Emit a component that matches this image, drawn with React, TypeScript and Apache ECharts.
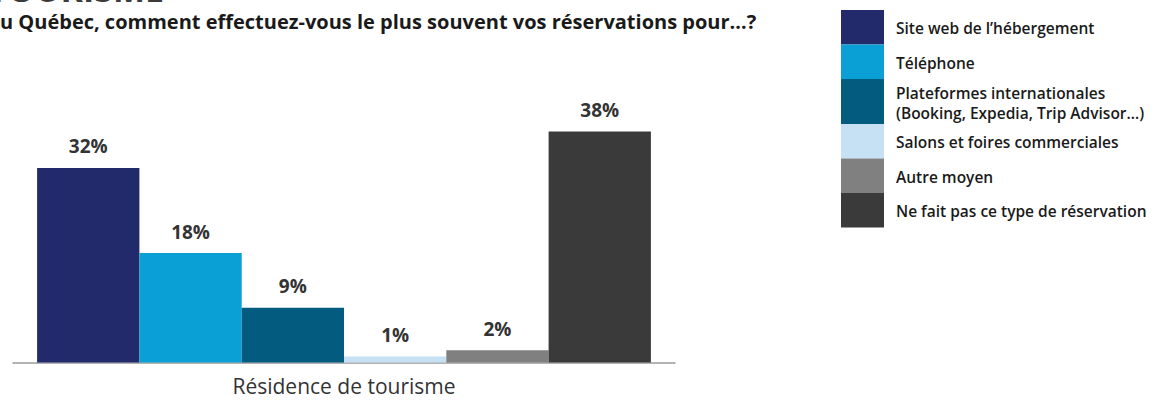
import React, { useEffect, useRef } from "react";
import * as echarts from "echarts";

const titleText = "u Québec, comment effectuez-vous le plus souvent vos réservations pour…?";
const headerText = "TOURISME";
const categories = ["Résidence de tourisme"];
const seriesNames = [
  "Site web de l’hébergement",
  "Téléphone",
  "Plateformes internationales\n(Booking, Expedia, Trip Advisor…)",
  "Salons et foires commerciales",
  "Autre moyen",
  "Ne fait pas ce type de réservation",
];
const seriesValues = [32, 18, 9, 1, 2, 38];
const seriesColors = ["#232a6b", "#0a9fd5", "#035b80", "#c6e0f4", "#808080", "#3a3a3a"];

const FONT = "'Open Sans', Lato, sans-serif";

export default function App() {
  const ref = useRef<HTMLDivElement>(null);
  useEffect(() => {
    if (!ref.current) return;
    const chart = echarts.init(ref.current, undefined, { renderer: "svg" });

    const legendEls: any[] = [];
    let y = 10;
    seriesNames.forEach((name, i) => {
      const lines = name.split("\n").length;
      const h = lines > 1 ? 45 : 34.5;
      legendEls.push({
        type: "rect",
        shape: { x: 841, y, width: 43, height: h },
        style: { fill: seriesColors[i] },
      });
      legendEls.push({
        type: "text",
        x: 896,
        y: y + h / 2 + 1,
        style: {
          text: name,
          font: `600 15.5px ${FONT}`,
          fill: "#1a1a1a",
          verticalAlign: "middle",
          align: "left",
          lineHeight: 20,
        },
      });
      y += h;
    });

    chart.setOption({
      animation: false,
      backgroundColor: "#ffffff",
      grid: { left: 13, right: 486, top: 119.3, bottom: 38.5 },
      xAxis: {
        type: "category",
        data: categories,
        axisLine: { show: true, lineStyle: { color: "#9a9a9a", width: 1.5 } },
        axisTick: { show: false },
        axisLabel: { fontSize: 21, color: "#333333", fontFamily: FONT, margin: 13 },
      },
      yAxis: { type: "value", min: 0, max: 40, show: false, splitLine: { show: false } },
      series: seriesNames.map((name, i) => ({
        name,
        type: "bar",
        data: [seriesValues[i]],
        barWidth: 102.3,
        barGap: "0%",
        itemStyle: { color: seriesColors[i] },
        label: {
          show: true,
          position: "top",
          distance: 12,
          formatter: "{c}%",
          fontSize: 19,
          fontWeight: "bold",
          color: "#333333",
          fontFamily: FONT,
        },
      })),
      graphic: [
        {
          type: "text",
          x: -12,
          y: 6,
          style: {
            text: headerText,
            font: `bold 34px ${FONT}`,
            fill: "#3b3b3b",
            verticalAlign: "bottom",
          },
        },
        {
          type: "text",
          x: 0,
          y: 21,
          style: {
            text: titleText,
            font: `bold 20px ${FONT}`,
            fill: "#1a1a1a",
            verticalAlign: "middle",
          },
        },
        ...legendEls,
      ],
    });
    return () => chart.dispose();
  }, []);
  return (
    <div
      ref={ref}
      style={{ position: "fixed", left: 0, top: 0, width: 1161, height: 401, background: "#fff" }}
    />
  );
}
